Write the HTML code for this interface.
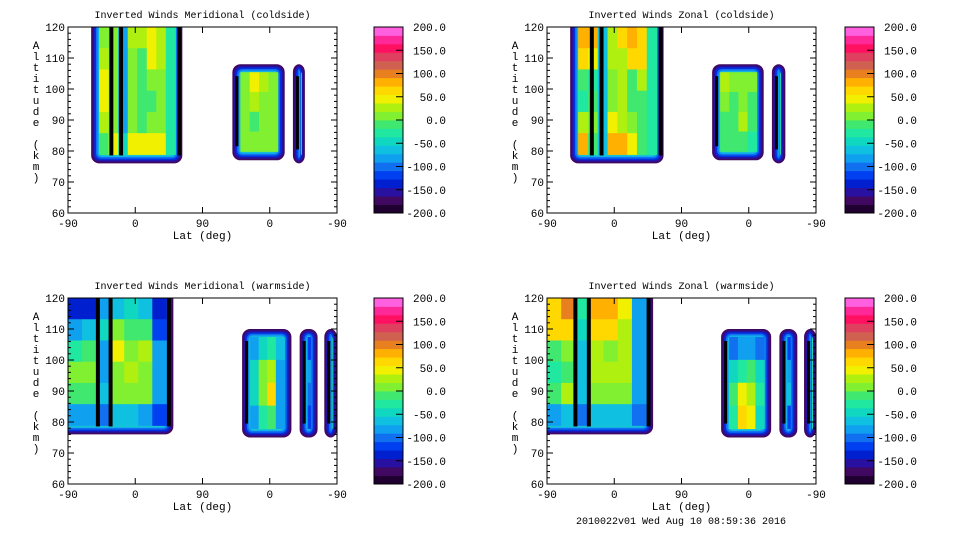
<!DOCTYPE html>
<html><head><meta charset="utf-8">
<style>
html,body{margin:0;padding:0;background:#fff;width:960px;height:540px;overflow:hidden}
svg{display:block;font-family:"Liberation Mono","DejaVu Sans Mono",monospace}
</style></head>
<body>
<svg id="fig" width="960" height="540" viewBox="0 0 960 540" xmlns="http://www.w3.org/2000/svg">
<text x="681" y="524" font-size="10" text-anchor="middle">2010022v01 Wed Aug 10 08:59:36 2016</text>
</svg>
<script>
// ---- colour scale data ----
const colorLevels = ["#200030","#400860","#2810a0","#0020d0","#0040f0","#1070f0","#10a0f0","#10c0e0","#10d8c0","#20e8a0","#40e870","#80f030","#b0f010","#f0f000","#ffd800","#ffb000","#e88020","#d06050","#e04060","#ff1060","#ff2898","#ff60e0"];
const colorbarTicks = [200,150,100,50,0,-50,-100,-150,-200];
const xTickLabels = ["-90","0","90","0","-90"];
const yTicks = [60,70,80,90,100,110,120];
const panelTitles = ["Inverted Winds Meridional (coldside)","Inverted Winds Zonal (coldside)","Inverted Winds Meridional (warmside)","Inverted Winds Zonal (warmside)"];

// blob extents: [sStart, sEnd, altBottom, altTop, openTop, openLeft]
const tlBlobs = [[-59,63,76,120,1,0],[130,200,77,108,0,0],[211,227,76,108,0,0]];
const trBlobs = [[-59,66,76,120,1,0],[131,200,77,108,0,0],[211,229,76,108,0,0]];
const blBlobs = [[-90,51,76,120,1,1],[143,209,75,110,0,0],[220,244,75,110,0,0],[253,270,75,110,0,0]];
const brBlobs = [[-90,52,76,120,1,1],[143,210,75,110,0,0],[221,245,75,110,0,0],[254,270,75,110,0,0]];

// interior wind values (m/s), rows top->bottom
const tlVals = [
 [[0,0,-90,5,10,30,10,-40],[20,0,-90,-10,-20,25,5,-40],[30,0,-90,-10,-30,-10,0,-40],[30,0,-90,-10,-30,-20,0,-40],[20,-10,-90,0,-20,-10,-10,-40],[-20,35,-60,35,35,35,30,-40]],
 [[0,30,20,-10],[-5,5,0,-10],[-10,-20,0,-10],[-10,-10,0,-10]],
 [[-130],[-110],[-120],[-130]]];
const trVals = [
 [[70,60,-80,20,40,70,40,-40],[50,30,-80,10,5,40,40,-40],[-30,-40,-80,-10,10,-20,20,-40],[-40,-20,-80,0,10,-30,-20,-40],[10,-10,-80,30,20,-10,-30,-40],[70,-20,-80,60,60,30,-20,-40]],
 [[10,0,-10,-10],[-10,-20,0,-20],[-20,-20,10,-20],[-30,-30,-30,-40]],
 [[-120],[-100],[-110],[-130]]];
const blVals = [
 [[-150,-150,-100,-70,-60,-80,-150],[-90,-70,-60,-10,-20,-30,-130],[-40,-20,-90,30,0,20,-100],[-10,-10,-90,0,20,0,-100],[-30,-30,-80,0,0,-10,-100],[-100,-100,-120,-80,-80,-90,-130]],
 [[-100,-60,-40,-80],[-60,-10,20,-100],[-60,0,40,-100],[-90,-40,-30,-100]],
 [[-140],[-100],[-110],[-140]],
 [[-160],[-150],[-150],[-160]]];
const brVals = [
 [[40,80,-40,60,70,30,-100],[40,50,-60,40,40,20,-100],[-20,-10,-80,10,-10,20,-100],[-50,-20,-80,10,20,10,-100],[-20,10,-80,-10,0,-10,-100],[-90,-80,-110,-80,-80,-80,-120]],
 [[-110,-100,-100,-110],[-60,-40,-30,-60],[-20,30,10,-40],[-40,40,30,-60]],
 [[-130],[-100],[-80],[-130]],
 [[-160],[-150],[-150],[-160]]];

// dark contour stripes (s positions)
const tlStripes = [-32,-19,59];
const trStripes = [-30,-17,62];
const blStripes = [-50,-33,45];
const brStripes = [-52,-34,46];

const panels = [
 {x0:68,y0:27,blobs:tlBlobs,vals:tlVals,stripes:tlStripes,cbx:374},
 {x0:547,y0:27,blobs:trBlobs,vals:trVals,stripes:trStripes,cbx:845},
 {x0:68,y0:298,blobs:blBlobs,vals:blVals,stripes:blStripes,cbx:374},
 {x0:547,y0:298,blobs:brBlobs,vals:brVals,stripes:brStripes,cbx:845}];
const PW=269, PH=186;
const edgeColors=["#400860","#2810a0","#0030e0","#1070f0","#10b0e8","#20e0b0"];
const NS="http://www.w3.org/2000/svg";
const svg=document.getElementById('fig');
function mk(tag,attrs,parent){const e=document.createElementNS(NS,tag);for(const k in attrs)e.setAttribute(k,attrs[k]);(parent||svg).appendChild(e);return e;}
function colorOf(v){let i=Math.floor((v+215)/400*colorLevels.length);i=Math.max(0,Math.min(colorLevels.length-1,i));return colorLevels[i];}

panels.forEach((p,pi)=>{
  const xs=s=>p.x0+(s+90)/360*PW;
  const ys=a=>p.y0+(120-a)/60*PH;
  const g=mk('g',{});
  
  
  const clip=mk('clipPath',{id:'clip'+pi},g);
  mk('rect',{x:p.x0,y:p.y0,width:PW,height:PH},clip);
  const fld=mk('g',{'clip-path':'url(#clip'+pi+')'},g);
  
  
  p.blobs.forEach((b,bi)=>{
    const bx=xs(b[0]),bx2=xs(b[1]),by=ys(b[3]),by2=ys(b[2]);
    const ot=b[4]?12:0, ol=b[5]?12:0;
    edgeColors.forEach((c,li)=>{
      const ins=li*1.6;
      const r=mk('rect',{x:bx+ins-ol,y:by+ins-ot,width:Math.max(1,bx2-bx-2*ins+ol),height:Math.max(1,by2-by-2*ins+ot),rx:Math.max(2,8-li),fill:c},fld);
      
      
    });
    const vals=p.vals[bi];
    const ix=bx+(b[5]?0:8), ix2=bx2-7, iy=by+(b[4]?0:8), iy2=by2-9;
    const rows=vals.length, cols=vals[0].length;
    const cw=(ix2-ix)/cols, ch=(iy2-iy)/rows;
    vals.forEach((row,r)=>row.forEach((v,c)=>{
      const cell=mk('rect',{x:ix+c*cw,y:iy+r*ch,width:cw+0.5,height:ch+0.5,fill:colorOf(v),stroke:'none'},fld);
      
      
    }));
    if(!b[4]){
      const l=mk('rect',{x:bx+3,y:by+12,width:3,height:by2-by-26,fill:'#000'},fld);
      
      
    }
  });
  p.stripes.forEach(s=>{
    const b=p.blobs[0];
    const l=mk('rect',{x:xs(s)-2,y:ys(b[3]),width:4,height:ys(b[2])-ys(b[3])-8,fill:'#000'},fld);
    
    
  });
  const fr=mk('rect',{x:p.x0,y:p.y0,width:PW,height:PH,fill:'none',stroke:'#000','stroke-width':1},g);
  
  
  for(let a=60;a<=120;a+=2){
    const len=(a%10===0)?6:3;
    mk('line',{x1:p.x0,x2:p.x0+len,y1:ys(a),y2:ys(a),stroke:'#000'},g);
    mk('line',{x1:p.x0+PW-len,x2:p.x0+PW,y1:ys(a),y2:ys(a),stroke:'#000'},g);
  }
  yTicks.forEach(a=>{
    const t=mk('text',{x:p.x0-3,y:ys(a)+4,'font-size':11,'text-anchor':'end'},g);
    t.textContent=a;
    
    
  });
  xTickLabels.forEach((lab,i)=>{
    const x=p.x0+i*PW/4;
    mk('line',{x1:x,x2:x,y1:p.y0+PH,y2:p.y0+PH-6,stroke:'#000'},g);
    mk('line',{x1:x,x2:x,y1:p.y0,y2:p.y0+6,stroke:'#000'},g);
    const t=mk('text',{x:x,y:p.y0+PH+14,'font-size':11,'text-anchor':'middle'},g);
    t.textContent=lab;
    
    
  });
  const xt=mk('text',{x:p.x0+PW/2,y:p.y0+PH+26,'font-size':11,'text-anchor':'middle'},g);
  xt.textContent='Lat (deg)';
  
  
  const tt=mk('text',{x:p.x0+PW/2,y:p.y0-9,'font-size':10,'text-anchor':'middle'},g);
  tt.textContent=panelTitles[pi];
  
  
  const yl=mk('text',{x:p.x0-32,y:p.y0+22,'font-size':11,'text-anchor':'middle'},g);
  
  
  'Altitude (km)'.split('').forEach((ch,i)=>{
    const ts=mk('tspan',{x:p.x0-32,y:p.y0+22+i*11},yl);
    ts.textContent=ch===' '?'\u00a0':ch;
  });
  const cb=mk('g',{},g);
  
  
  const n=colorLevels.length, bh=PH/n;
  colorLevels.forEach((c,i)=>{
    mk('rect',{x:p.cbx,y:p.y0+PH-(i+1)*bh,width:29,height:bh+0.4,fill:c},cb);
  });
  mk('rect',{x:p.cbx,y:p.y0,width:29,height:PH,fill:'none',stroke:'#000'},cb);
  colorbarTicks.forEach(v=>{
    const y=p.y0+(200-v)/400*PH;
    if(v<200&&v>-200) mk('line',{x1:p.cbx+22,x2:p.cbx+29,y1:y,y2:y,stroke:'#000'},cb);
    const t=mk('text',{x:p.cbx+72,y:y+4,'font-size':11,'text-anchor':'end'},cb);
    t.textContent=v.toFixed(1);
    
    
  });
});
</script>
</body></html>
